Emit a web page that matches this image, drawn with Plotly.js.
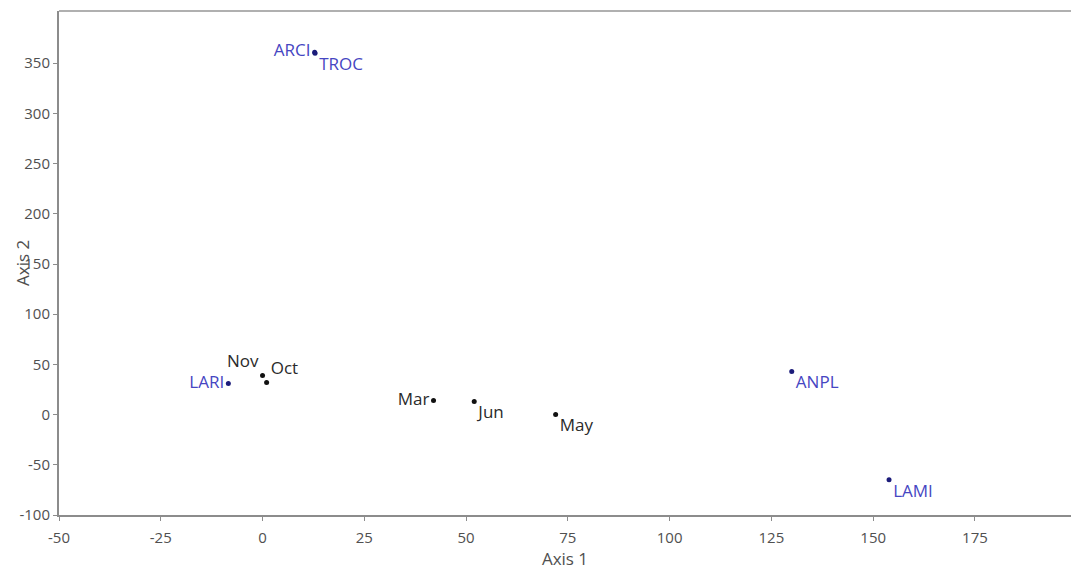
<!DOCTYPE html>
<html>
<head>
<meta charset="utf-8">
<script src="https://cdn.plot.ly/plotly-3.0.1.min.js"></script>
<style>html,body{margin:0;padding:0;background:#fff;}#chart{width:1071px;height:572px;}</style>
</head>
<body>
<div id="chart"></div>
<script>
var speciesNames = ["ARCI", "TROC", "LARI", "ANPL", "LAMI"];
var speciesX = [12.8, 12.9, -8.4, 130, 153.9];
var speciesY = [361, 360, 31, 43, -65];
var speciesPos = ["middle left", "bottom right", "middle left", "bottom right", "bottom right"];

var monthNames = ["Nov", "Oct", "Mar", "Jun", "May"];
var monthX = [0, 1, 42, 52, 72];
var monthY = [39, 32, 14, 13, 0];
var monthPos = ["top left", "top right", "middle left", "bottom right", "bottom right"];

var xTickVals = [-50, -25, 0, 25, 50, 75, 100, 125, 150, 175];
var xTickText = ["-50", "-25", "0", "25", "50", "75", "100", "125", "150", "175"];
var yTickVals = [-100, -50, 0, 50, 100, 150, 200, 250, 300, 350];
var yTickText = ["-100", "-50", "0", "50", "100", "150", "200", "250", "300", "350"];

var FONT = "Open Sans, Noto Sans, sans-serif";

var traces = [
  {
    type: "scatter", mode: "markers+text",
    x: speciesX, y: speciesY, text: speciesNames, textposition: speciesPos,
    marker: {size: 5, color: "#1c1c7a"},
    textfont: {family: FONT, size: 17, color: "#4646c2"},
    cliponaxis: false, hoverinfo: "text"
  },
  {
    type: "scatter", mode: "markers+text",
    x: monthX, y: monthY, text: monthNames, textposition: monthPos,
    marker: {size: 5, color: "#111111"},
    textfont: {family: FONT, size: 17, color: "#2a2a2a"},
    cliponaxis: false, hoverinfo: "text"
  }
];

var axisCommon = {
  showgrid: false, zeroline: false, showline: true,
  linecolor: "#8c8c8c", linewidth: 2,
  ticks: "outside", ticklen: 4, tickwidth: 1, tickcolor: "#8c8c8c",
  tickfont: {family: FONT, size: 15, color: "#505050"},
  tickmode: "array", automargin: false
};

var layout = {
  width: 1071, height: 572,
  margin: {l: 59, r: 0, t: 11, b: 57},
  paper_bgcolor: "#ffffff", plot_bgcolor: "#ffffff",
  showlegend: false,
  xaxis: Object.assign({}, axisCommon, {
    range: [-50, 198.6], tickvals: xTickVals, ticktext: xTickText,
    ticklabelstandoff: 4,
    title: {text: "Axis 1", font: {family: FONT, size: 17, color: "#505050"}, standoff: 4}
  }),
  yaxis: Object.assign({}, axisCommon, {
    range: [-100, 402], tickvals: yTickVals, ticktext: yTickText,
    ticklabelstandoff: 0
  }),
  annotations: [
    {text: "Axis 2", xref: "paper", yref: "paper", x: -0.0366, y: 0.5,
     xanchor: "center", yanchor: "middle", textangle: -90, showarrow: false,
     font: {family: FONT, size: 17, color: "#505050"}}
  ],
  shapes: [
    {type: "line", xref: "paper", yref: "paper", x0: 0, x1: 1, y0: 1, y1: 1,
     line: {color: "#b0b0b0", width: 2}}
  ]
};

Plotly.newPlot("chart", traces, layout, {displayModeBar: false, staticPlot: true});
</script>
</body>
</html>
